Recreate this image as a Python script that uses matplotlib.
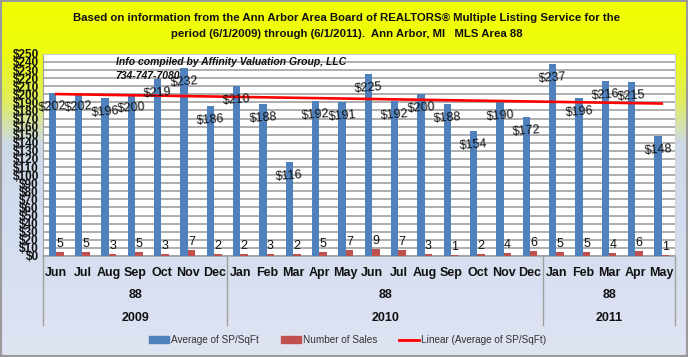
# Ann Arbor MLS Area 88 - average SP/SqFt and number of sales by month
import numpy as np
import matplotlib
matplotlib.use("Agg")
import matplotlib.pyplot as plt
from matplotlib import font_manager
from matplotlib.lines import Line2D
from matplotlib.patches import Patch, Rectangle
from matplotlib.colors import LinearSegmentedColormap

# data
months = ["Jun", "Jul", "Aug", "Sep", "Oct", "Nov", "Dec",
          "Jan", "Feb", "Mar", "Apr", "May", "Jun", "Jul", "Aug", "Sep", "Oct", "Nov", "Dec",
          "Jan", "Feb", "Mar", "Apr", "May"]
years = ["2009", "2010", "2011"]
year_counts = [7, 12, 5]
area = "88"
avg_sqft = [202, 202, 196, 200, 219, 232, 186,
            210, 188, 116, 192, 191, 225, 192, 200, 188, 154, 190, 172,
            237, 196, 216, 215, 148]
num_sales = [5, 5, 3, 5, 3, 7, 2,
             2, 3, 2, 5, 7, 9, 7, 3, 1, 2, 4, 6,
             5, 5, 4, 6, 1]

names = {f.name for f in font_manager.fontManager.ttflist}
narrow = "Liberation Sans Narrow" if "Liberation Sans Narrow" in names else "Liberation Sans"
plt.rcParams["font.family"] = [narrow, "DejaVu Sans"]

blue = "#4F81BD"
red = "#C0504D"

fig = plt.figure(figsize=(6.88, 3.57), dpi=100)

# gradient background
bg = fig.add_axes([0, 0, 1, 1], zorder=-10)
cmap = LinearSegmentedColormap.from_list(
    "bg", [(0, "#F2FF00"), (0.14, "#EEFC10"), (0.28, "#E0EE5A"),
           (0.40, "#CCD9E6"), (0.6, "#D3DCF0"), (1, "#DFE4F2")])
bg.imshow(np.linspace(0, 1, 256).reshape(-1, 1), aspect="auto", cmap=cmap,
          extent=[0, 1, 0, 1], origin="upper")
bg.set_xlim(0, 1)
bg.set_ylim(0, 1)
bg.axis("off")
bg.add_patch(Rectangle((0.001, 0.002), 0.997, 0.995, fill=False, ec="#9A9A9A", lw=1.5))

ax = fig.add_axes([0.0625, 0.283, 0.9185, 0.566])
ax.set_facecolor("white")

x = np.arange(len(months))
w = 0.28
ax.bar(x - 0.14, avg_sqft, w, color=blue, zorder=3)
ax.bar(x + 0.14, num_sales, w, color=red, zorder=3)

# linear trend of the average series
k, b = np.polyfit(x, avg_sqft, 1)
ax.plot([x[0], x[-1]], [k * x[0] + b, k * x[-1] + b], color="#FF0000", lw=1.9, zorder=4)

for xi, v in zip(x, avg_sqft):
    ax.annotate(f"${v}", (xi - 0.14, v), xytext=(0, -14), textcoords="offset pixels",
                ha="center", va="center", fontsize=9, rotation=4, color="#111111", zorder=5)
for xi, v in zip(x, num_sales):
    ax.annotate(f"{v}", (xi + 0.14, v), xytext=(0, 2), textcoords="offset pixels",
                ha="center", va="bottom", fontsize=9, color="#111111", zorder=5)

ax.set_xlim(-0.5, len(months) - 0.5)
ax.set_ylim(0, 250)
ax.set_yticks(range(0, 251, 10))
ax.set_yticklabels([f"${t}" for t in range(0, 251, 10)], fontsize=8.5, fontweight="bold")
ax.yaxis.grid(True, color="#A8A8A8", lw=1.3, zorder=0)
ax.tick_params(axis="y", length=0, pad=3, colors="#111111")
ax.set_xticks(x)
ax.set_xticklabels(months, fontsize=9, fontweight="bold")
ax.tick_params(axis="x", length=0, pad=8, colors="#111111")
for s in ["top", "right"]:
    ax.spines[s].set_color("#D0D0D0")
ax.spines["left"].set_color("#A0A0A0")
ax.spines["bottom"].set_color("#A0A0A0")
ax.spines["bottom"].set_linewidth(1.2)

# multi-level category axis
trans = ax.get_xaxis_transform()
start = 0
edges = [-0.5]
for yr, n in zip(years, year_counts):
    mid = start + (n - 1) / 2
    ax.text(mid, -0.193, area, transform=trans, ha="center", va="center",
            fontsize=9, fontweight="bold", color="#111111")
    ax.text(mid, -0.307, yr, transform=trans, ha="center", va="center",
            fontsize=9, fontweight="bold", color="#111111")
    start += n
    edges.append(start - 0.5)
for e in edges:
    ax.plot([e, e], [0, -0.34], transform=trans, color="#A0A0A0", lw=1, clip_on=False)

fig.text(0.504, 0.950, "Based on information from the Ann Arbor Area Board of REALTORS\u00ae Multiple Listing Service for the",
         ha="center", va="center", fontsize=8.2, fontweight="bold", color="#111111")
fig.text(0.504, 0.905, "period (6/1/2009) through (6/1/2011).  Ann Arbor, MI   MLS Area 88",
         ha="center", va="center", fontsize=8.2, fontweight="bold", color="#111111")
ax.text(0.115, 0.985, "Info compiled by Affinity Valuation Group, LLC\n734-747-7080",
        transform=ax.transAxes, ha="left", va="top", fontsize=7.5, fontweight="bold",
        fontstyle="italic", color="#111111", linespacing=1.5, zorder=6)

handles = [Patch(color=blue), Patch(color=red), Line2D([], [], color="#FF0000", lw=2)]
fig.legend(handles, ["Average of SP/SqFt", "Number of Sales", "Linear (Average of SP/SqFt)"],
           loc="center", bbox_to_anchor=(0.505, 0.048), ncol=3, frameon=False,
           fontsize=7.2, handlelength=2.0, handleheight=0.6, columnspacing=2.2,
           handletextpad=0.2, labelcolor="#333333")

fig.savefig("out.png", dpi=100)
